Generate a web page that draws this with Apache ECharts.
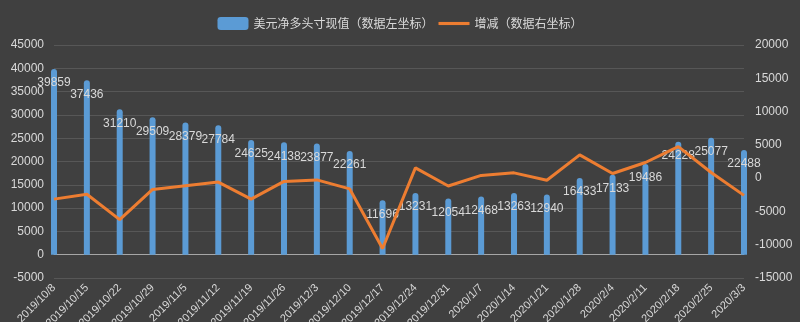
<!DOCTYPE html>
<html><head><meta charset="utf-8">
<script src="https://cdn.jsdelivr.net/npm/echarts@6/dist/echarts.min.js"></script>
<style>html,body{margin:0;padding:0;background:#404040;}#c{width:800px;height:322px;}</style>
</head><body><div id="c"></div>
<script>
var categories = ["2019/10/8","2019/10/15","2019/10/22","2019/10/29","2019/11/5","2019/11/12","2019/11/19","2019/11/26","2019/12/3","2019/12/10","2019/12/17","2019/12/24","2019/12/31","2020/1/7","2020/1/14","2020/1/21","2020/1/28","2020/2/4","2020/2/11","2020/2/18","2020/2/25","2020/3/3"];
var netLong = [39859,37436,31210,29509,28379,27784,24625,24138,23877,22261,11696,13231,12054,12468,13263,12940,16433,17133,19486,24228,25077,22488];
var change = [-3150,-2423,-6226,-1701,-1130,-595,-3159,-487,-261,-1616,-10565,1535,-1177,414,795,-323,3493,700,2353,4742,849,-2589];
var barName = "美元净多头寸现值（数据左坐标）";
var lineName = "增减（数据右坐标）";

var txt = '#d9d9d9';
var chart = echarts.init(document.getElementById('c'), null, {renderer:'canvas'});
chart.setOption({
  backgroundColor: '#404040',
  animation: false,
  textStyle: {fontFamily: 'Liberation Sans, sans-serif'},
  legend: {
    top: 12, left: 'center', itemGap: 5,
    itemWidth: 31, itemHeight: 13,
    textStyle: {color: txt, fontSize: 12, fontFamily: 'Noto Sans CJK SC'},
    data: [
      {name: barName, icon: 'roundRect'},
      {name: lineName, icon: 'path://M0,0 L30,0 L30,3 L0,3 Z'}
    ]
  },
  grid: {left: 54, right: 56, top: 45, bottom: 44, containLabel: false, outerBoundsMode: 'none'},
  xAxis: {
    type: 'category', data: categories, boundaryGap: false,
    axisLine: {lineStyle: {color: '#a6a6a6', width: 1}},
    axisTick: {show: false},
    axisLabel: {rotate: 45, color: txt, fontSize: 11, margin: 8, interval: 0}
  },
  yAxis: [
    {type: 'value', min: -5000, max: 45000, interval: 5000,
     axisLine: {show: false}, axisTick: {show: false},
     axisLabel: {color: txt, fontSize: 12, margin: 10, formatter: function(v){return String(v);}},
     splitLine: {lineStyle: {color: '#575757', width: 1}}},
    {type: 'value', min: -15000, max: 20000, interval: 5000,
     axisLine: {show: false}, axisTick: {show: false},
     axisLabel: {color: txt, fontSize: 12, margin: 11, formatter: function(v){return String(v);}},
     splitLine: {show: false}}
  ],
  series: [
    {name: barName, type: 'bar', yAxisIndex: 0, data: netLong, barWidth: 6, clip: false,
     itemStyle: {color: '#5b9bd5', borderRadius: [3,3,0,0]},
     label: {show: true, position: 'insideTop', distance: 8, color: txt, fontSize: 12}},
    {name: lineName, type: 'line', yAxisIndex: 1, data: change, symbol: 'none',
     lineStyle: {color: '#ed7d31', width: 3}, itemStyle: {color: '#ed7d31'}}
  ]
});
</script></body></html>
